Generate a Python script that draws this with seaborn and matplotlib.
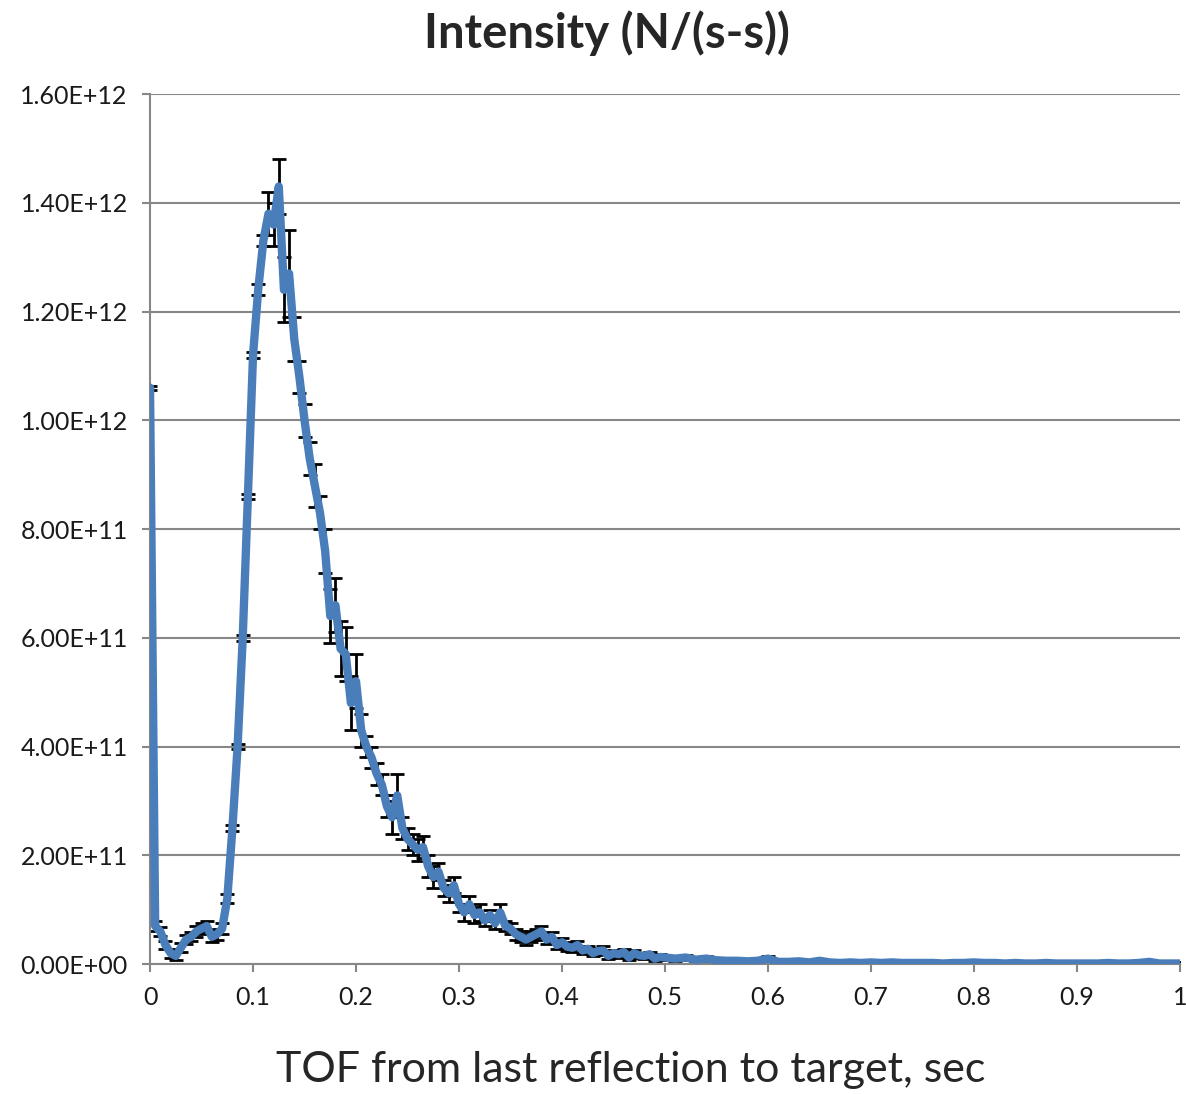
import seaborn as sns
import matplotlib.pyplot as plt
import numpy as np
import pandas as pd

# time of flight bins (sec)
tof_fine = [0.000, 0.005, 0.010, 0.015, 0.020, 0.025, 0.030, 0.035, 0.040, 0.045,
            0.050, 0.055, 0.060, 0.065, 0.070, 0.075, 0.080, 0.085, 0.090, 0.095,
            0.100, 0.105, 0.110, 0.115, 0.120, 0.125, 0.130, 0.135, 0.140, 0.145,
            0.150, 0.155, 0.160, 0.165, 0.170, 0.175, 0.180, 0.185, 0.190, 0.195,
            0.200, 0.205, 0.210, 0.215, 0.220, 0.225, 0.230, 0.235, 0.240, 0.245,
            0.250, 0.255, 0.260, 0.265, 0.270, 0.275, 0.280, 0.285, 0.290, 0.295,
            0.300, 0.305, 0.310, 0.315, 0.320, 0.325, 0.330, 0.335, 0.340, 0.345,
            0.350, 0.355, 0.360, 0.365, 0.370, 0.375, 0.380, 0.385, 0.390, 0.395,
            0.400, 0.405, 0.410, 0.415, 0.420, 0.425, 0.430, 0.435, 0.440, 0.445,
            0.450, 0.455, 0.460, 0.465, 0.470, 0.475, 0.480, 0.485, 0.490, 0.495,
            0.500]
tof_tail = [0.51, 0.52, 0.53, 0.54, 0.55, 0.56, 0.57, 0.58, 0.59, 0.60,
            0.61, 0.62, 0.63, 0.64, 0.65, 0.66, 0.67, 0.68, 0.69, 0.70,
            0.71, 0.72, 0.73, 0.74, 0.75, 0.76, 0.77, 0.78, 0.79, 0.80,
            0.81, 0.82, 0.83, 0.84, 0.85, 0.86, 0.87, 0.88, 0.89, 0.90,
            0.91, 0.92, 0.93, 0.94, 0.95, 0.96, 0.97, 0.98, 0.99, 1.00]

# intensity in units of 1e12 N/(s-s)
int_fine = [1.06, 0.07, 0.06, 0.035, 0.02, 0.015, 0.03, 0.045, 0.05, 0.06,
            0.065, 0.07, 0.05, 0.055, 0.065, 0.12, 0.25, 0.40, 0.60, 0.86,
            1.12, 1.24, 1.33, 1.38, 1.36, 1.43, 1.24, 1.27, 1.15, 1.08,
            1.00, 0.93, 0.88, 0.83, 0.76, 0.64, 0.66, 0.58, 0.57, 0.48,
            0.52, 0.43, 0.40, 0.38, 0.35, 0.33, 0.29, 0.27, 0.31, 0.25,
            0.23, 0.22, 0.21, 0.215, 0.18, 0.16, 0.17, 0.14, 0.13, 0.145,
            0.11, 0.095, 0.11, 0.09, 0.095, 0.08, 0.09, 0.075, 0.095, 0.07,
            0.065, 0.055, 0.05, 0.045, 0.05, 0.055, 0.06, 0.045, 0.05, 0.035,
            0.04, 0.032, 0.03, 0.035, 0.025, 0.028, 0.02, 0.024, 0.025, 0.015,
            0.02, 0.018, 0.022, 0.012, 0.02, 0.016, 0.015, 0.018, 0.01, 0.013,
            0.012]
int_tail = [0.010, 0.012, 0.008, 0.010, 0.007, 0.006, 0.006, 0.005, 0.006, 0.010,
            0.004, 0.004, 0.005, 0.003, 0.006, 0.003, 0.002, 0.003, 0.002, 0.003,
            0.002, 0.003, 0.002, 0.002, 0.002, 0.002, 0.001, 0.002, 0.002, 0.003,
            0.002, 0.002, 0.001, 0.002, 0.001, 0.001, 0.002, 0.001, 0.001, 0.001,
            0.001, 0.001, 0.002, 0.001, 0.001, 0.002, 0.004, 0.001, 0.001, 0.001]

# error bar half-heights, same units
err_fine = [0.004, 0.01, 0.008, 0.008, 0.008, 0.008, 0.008, 0.008, 0.008, 0.01,
            0.01, 0.01, 0.01, 0.01, 0.01, 0.008, 0.005, 0.005, 0.005, 0.005,
            0.005, 0.01, 0.01, 0.04, 0.04, 0.05, 0.06, 0.08, 0.04, 0.03,
            0.03, 0.03, 0.04, 0.03, 0.04, 0.05, 0.05, 0.05, 0.05, 0.05,
            0.05, 0.03, 0.02, 0.02, 0.02, 0.02, 0.02, 0.03, 0.04, 0.02,
            0.02, 0.02, 0.02, 0.02, 0.02, 0.02, 0.015, 0.015, 0.015, 0.015,
            0.015, 0.015, 0.015, 0.015, 0.015, 0.01, 0.01, 0.01, 0.015, 0.01,
            0.01, 0.01, 0.01, 0.01, 0.01, 0.01, 0.01, 0.008, 0.008, 0.008,
            0.008, 0.008, 0.008, 0.008, 0.006, 0.006, 0.006, 0.006, 0.008, 0.006,
            0.006, 0.006, 0.006, 0.005, 0.005, 0.005, 0.005, 0.005, 0.005, 0.005,
            0.005]
err_tail = [0.004] * 10 + [0.003] * 10 + [0.002] * 30

df = pd.DataFrame({
    'tof': tof_fine + tof_tail,
    'intensity': np.array(int_fine + int_tail) * 1e12,
    'err': np.array(err_fine + err_tail) * 1e12,
})

sns.set_style('white')
plt.rcParams['font.family'] = ['Lato', 'DejaVu Sans']

fig = plt.figure(figsize=(11.86, 10.94), dpi=100)
ax = fig.add_axes([0.1265, 0.1188, 0.8685, 0.7952])

gray = '#878787'
ax.errorbar(df['tof'], df['intensity'], yerr=df['err'], fmt='none',
            ecolor='black', elinewidth=2, capsize=5, capthick=2, zorder=2)
sns.lineplot(data=df, x='tof', y='intensity', ax=ax, color='#4A7EBB',
             linewidth=6, zorder=3, estimator=None, sort=False,
             solid_joinstyle='round', solid_capstyle='round')

ax.set_xlim(0, 1)
ax.set_ylim(0, 1.6e12)
ax.set_xticks(np.round(np.arange(0, 1.01, 0.1), 1))
ax.set_xticklabels(['0', '0.1', '0.2', '0.3', '0.4', '0.5', '0.6', '0.7', '0.8', '0.9', '1'])
yt = np.arange(0, 1.61e12, 0.2e12)
ax.set_yticks(yt)
ax.set_yticklabels(['%.2fE+%02d' % (v / 10 ** int(np.floor(np.log10(v))), int(np.floor(np.log10(v))))
                    if v > 0 else '0.00E+00' for v in yt])

ax.yaxis.grid(True, color=gray, linewidth=1.5)
ax.xaxis.grid(False)
for s in ['top', 'right']:
    ax.spines[s].set_visible(False)
for s in ['left', 'bottom']:
    ax.spines[s].set_color(gray)
    ax.spines[s].set_linewidth(1.5)
ax.tick_params(axis='both', direction='out', length=6, width=1.5, color=gray,
               labelsize=18, labelcolor='#1a1a1a')
ax.tick_params(axis='x', pad=10, bottom=True)
ax.tick_params(axis='y', pad=10, left=True)

ax.set_xlabel('TOF from last reflection to target, sec', fontsize=31, labelpad=30, x=0.467)
ax.set_ylabel('')
ax.set_title('Intensity (N/(s-s))', fontsize=34, fontweight='bold', pad=33, x=0.444)

fig.savefig('out.png', dpi=100)
